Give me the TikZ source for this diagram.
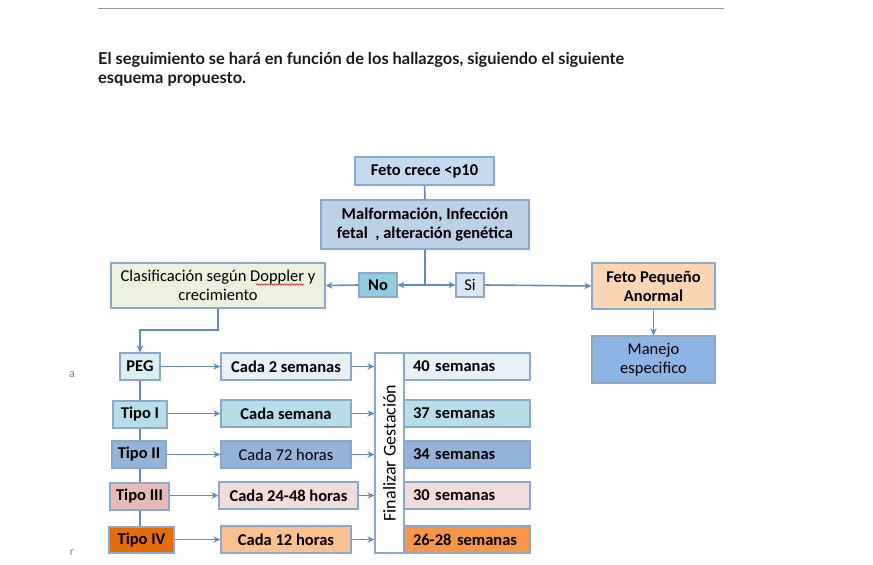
\documentclass[tikz,border=0pt]{standalone}
\usepackage{fontspec}
\setmainfont{Carlito}
\newfontfamily\headfont{Lato}
\usetikzlibrary{arrows.meta,decorations.pathmorphing}
\definecolor{bordercol}{HTML}{8AA8CC}
\definecolor{linecol}{HTML}{5E8CC2}
\definecolor{cfeto}{HTML}{C6D9F1}
\definecolor{cmalf}{HTML}{BCD0E8}
\definecolor{cno}{HTML}{93CDDD}
\definecolor{csi}{HTML}{DCE6F2}
\definecolor{cclas}{HTML}{EBF1DE}
\definecolor{cfpa}{HTML}{FCD5B5}
\definecolor{cman}{HTML}{8EB4E3}
\definecolor{cpeg}{HTML}{DBEEF4}
\definecolor{cone}{HTML}{B7DEE8}
\definecolor{ctwo}{HTML}{95B3D7}
\definecolor{cthree}{HTML}{E6B9B8}
\definecolor{cfour}{HTML}{E46C0A}
\definecolor{cpale}{HTML}{E9F1F8}
\definecolor{cpink}{HTML}{F2DCDB}
\definecolor{corl}{HTML}{FAC090}
\definecolor{cord}{HTML}{F79646}
\begin{document}
\begin{tikzpicture}[x=1pt,y=-1pt,
  box/.style={draw=bordercol, line width=1.2pt, inner sep=1pt, align=center, font=\fontsize{16.5}{19}\selectfont},
  bbox/.style={box, font=\fontsize{16.5}{19}\selectfont\bfseries},
  rbox/.style={draw=bordercol, line width=1.2pt, inner xsep=9pt, inner ysep=1pt, text width=108pt, align=left, minimum height=27pt, font=\fontsize{16.5}{19}\selectfont\bfseries},
  conn/.style={draw=linecol, line width=1.6pt},
  arr/.style={conn, -{Stealth[length=7pt,width=6.5pt]}}]
\useasboundingbox (0,0) rectangle (873,565);
\draw[gray!80, line width=1pt] (98,8) -- (724,8);
\node[anchor=base west, inner sep=0pt, align=left, font=\headfont\bfseries\fontsize{16.4}{19.5}\selectfont, text=black!90] (head) at (98,83.5)
  {El seguimiento se hará en función de los hallazgos, siguiendo el siguiente\\esquema propuesto.};
\node[text=gray, font=\fontsize{12}{13}\selectfont, inner sep=0pt] (sa) at (72,375) {a};
\node[text=gray, font=\fontsize{12}{13}\selectfont, inner sep=0pt] (sr) at (72,553) {r};

\node[bbox, fill=cfeto, minimum width=139pt, minimum height=28pt] (feto) at (424.5,171) {Feto crece <p10};
\node[bbox, fill=cmalf, minimum width=208pt, minimum height=49pt] (malf) at (425,224.5) {Malformación, Infección\\fetal\ \ , alteración genética};
\coordinate (j) at (425,285);
\node[bbox, fill=cno, minimum width=38pt, minimum height=24pt] (no) at (378,285) {No};
\node[box, fill=csi, minimum width=28pt, minimum height=24pt] (si) at (470,285) {Si};
\node[box, fill=cclas, minimum width=214pt, minimum height=45pt] (clas) at (218,285.5) {Clasificación según Doppler y\\crecimiento};
\node[bbox, fill=cfpa, minimum width=123pt, minimum height=46pt] (fpa) at (653.5,286) {Feto Pequeño\\Anormal};
\node[box, fill=cman, minimum width=123pt, minimum height=47pt] (man) at (653.5,359.5) {Manejo\\especifico};

\node[bbox, fill=cpeg, minimum width=40pt, minimum height=27pt] (peg) at (140,366.5) {PEG};
\node[bbox, fill=cone, minimum width=54pt, minimum height=27pt] (t1) at (140,414.5) {Tipo I};
\node[bbox, fill=ctwo, minimum width=54pt, minimum height=27pt] (t2) at (139,454.5) {Tipo II};
\node[bbox, fill=cthree, minimum width=59pt, minimum height=27pt] (t3) at (139.5,496.5) {Tipo III};
\node[bbox, fill=cfour, minimum width=65pt, minimum height=26pt] (t4) at (141.5,540) {Tipo IV};

\node[bbox, fill=cpale, minimum width=130pt, minimum height=27pt] (c1) at (286,366.5) {Cada 2 semanas};
\node[bbox, fill=cone, minimum width=130pt, minimum height=27pt] (c2) at (286,413.5) {Cada semana};
\node[box, fill=ctwo, minimum width=130pt, minimum height=27pt] (c3) at (286,454.5) {Cada 72 horas};
\node[bbox, fill=cpink, minimum width=139pt, minimum height=27pt] (c4) at (288.5,495.5) {Cada 24-48 horas};
\node[bbox, fill=corl, minimum width=130pt, minimum height=27pt] (c5) at (286,539.5) {Cada 12 horas};

\node[draw=bordercol, line width=1.2pt, fill=white, minimum width=29pt, minimum height=200pt, inner sep=0pt] (fin) at (389.5,453) {};
\node[rotate=90, font=\fontsize{18}{20}\selectfont, inner sep=0pt] (fint) at (fin.center) {Finalizar Gestación};

\node[rbox, fill=cpale] (s1) at (467,366.5) {40 semanas};
\node[rbox, fill=cone] (s2) at (467,413.5) {37 semanas};
\node[rbox, fill=ctwo] (s3) at (467,454.5) {34 semanas};
\node[rbox, fill=cpink] (s4) at (467,495.5) {30 semanas};
\node[rbox, fill=cord] (s5) at (467,539.5) {26-28 semanas};

\draw[red!80!black, line width=0.5pt, decorate, decoration={snake, amplitude=0.7pt, segment length=2.5pt}] (256,284.5) -- (304,284.5);

\draw[conn] (feto.south) -- (malf.north);
\draw[conn] (malf.south) -- (j);
\draw[arr] (j) -- (no.east);
\draw[arr] (j) -- (si.west);
\draw[arr] (no.west) -- (clas.east);
\draw[arr] (si.east) -- (fpa.west);
\draw[arr] (fpa.south) -- (man.north);
\coordinate (k1) at (218,330);
\coordinate (k2) at (140,330);
\draw[arr] (clas.south) -- (k1) -- (k2) -- (peg.north);
\draw[conn] (peg.south) -- (peg.south |- t1.north);
\draw[conn] (t1.south) -- (t1.south |- t2.north);
\draw[conn] (t2.south -| t1.south) -- (t1.south |- t3.north);
\draw[conn] (t3.south -| t1.south) -- (t1.south |- t4.north);
\foreach \a/\b in {peg/c1, t1/c2, t2/c3, t3/c4, t4/c5} {
  \draw[arr] (\a.east |- \b.west) -- (\b.west);
}
\foreach \b in {c1,c2,c3,c4,c5} {
  \draw[arr] (\b.east) -- (fin.west |- \b.east);
}
\end{tikzpicture}
\end{document}
